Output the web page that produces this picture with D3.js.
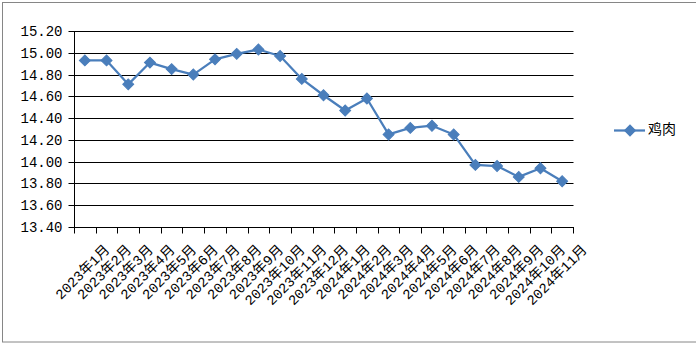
<!DOCTYPE html>
<html><head><meta charset="utf-8">
<script src="https://cdn.jsdelivr.net/npm/d3@7"></script>
<style>
html,body{margin:0;padding:0;background:#fff;}
svg{display:block;}
</style></head>
<body>
<svg id="chart" width="696" height="356"></svg>
<script>
const categories = ["2023年1月","2023年2月","2023年3月","2023年4月","2023年5月","2023年6月","2023年7月","2023年8月","2023年9月","2023年10月","2023年11月","2023年12月","2024年1月","2024年2月","2024年3月","2024年4月","2024年5月","2024年6月","2024年7月","2024年8月","2024年9月","2024年10月","2024年11月"];
const seriesName = "鸡肉";
const values = [14.93,14.93,14.71,14.91,14.85,14.80,14.94,14.99,15.03,14.97,14.76,14.61,14.47,14.58,14.25,14.31,14.33,14.25,13.97,13.96,13.86,13.94,13.82];
const yTicks = [13.40,13.60,13.80,14.00,14.20,14.40,14.60,14.80,15.00,15.20];

(function(){
const svg = d3.select("#chart");
const pLeft = 74, pRight = 573, pTop = 31, pBottom = 227;
const color = "#4A7EBB";
const labelFont = "'Liberation Mono','Noto Sans CJK SC',monospace";

// border
svg.append("rect").attr("x",2.5).attr("y",2.5).attr("width",710).attr("height",339.5)
  .attr("fill","none").attr("stroke","#868686").attr("stroke-width",1);

const x = d3.scaleBand().domain(categories).range([pLeft,pRight]).paddingInner(0).paddingOuter(0);
const y = d3.scaleLinear().domain([13.4,15.2]).range([pBottom,pTop]);
const px = v => Math.round(v)+0.5;

// gridlines
svg.append("g").selectAll("line").data(yTicks).join("line")
  .attr("x1",pLeft).attr("x2",pRight+0.5)
  .attr("y1",d=>px(y(d))).attr("y2",d=>px(y(d)))
  .attr("stroke","#000").attr("stroke-width",1);

// y axis
const yAxis = d3.axisLeft(y).tickValues(yTicks).tickSize(6).tickFormat(d3.format(".2f"));
const gy = svg.append("g").attr("transform",`translate(${pLeft+0.5},0)`).call(yAxis);
gy.select(".domain").attr("stroke","#000").attr("d",`M0,${px(pTop)-0.5}V${px(pBottom)}`);
gy.selectAll(".tick").attr("transform",d=>`translate(0,${px(y(d))})`);
gy.selectAll(".tick line").attr("stroke","#000");
gy.selectAll(".tick text").attr("x",-12).attr("dy","0.35em")
  .style("font-family",labelFont).style("font-size","14px").attr("fill","#000");

// x axis
const boundaries = d3.range(categories.length+1).map(i=>pLeft + i*x.bandwidth());
const gx = svg.append("g");
gx.append("line").attr("x1",pLeft).attr("x2",pRight+1).attr("y1",px(pBottom)).attr("y2",px(pBottom)).attr("stroke","#000");
gx.selectAll("line.tk").data(boundaries).join("line").attr("class","tk")
  .attr("x1",d=>px(d)).attr("x2",d=>px(d)).attr("y1",px(pBottom)).attr("y2",px(pBottom)+6).attr("stroke","#000");
gx.selectAll("text").data(categories).join("text")
  .attr("transform",d=>`translate(${x(d)+x.bandwidth()/2+23},248) rotate(-45)`)
  .attr("text-anchor","end").attr("dominant-baseline","middle")
  .style("font-family",labelFont).style("font-size","14px").attr("fill","#000")
  .text(d=>d);

// line
const line = d3.line().x((d,i)=>x(categories[i])+x.bandwidth()/2).y(d=>y(d));
svg.append("path").datum(values).attr("d",line).attr("fill","none")
  .attr("stroke",color).attr("stroke-width",2.25).attr("stroke-linejoin","round");

const diamond = d3.symbol().type(d3.symbolSquare).size(60);
svg.append("g").selectAll("path").data(values).join("path")
  .attr("d",diamond())
  .attr("transform",(d,i)=>`translate(${x(categories[i])+x.bandwidth()/2},${y(d)}) rotate(45)`)
  .attr("fill",color).attr("stroke",color).attr("stroke-width",1);

// legend
const lg = svg.append("g").attr("transform","translate(0,130)");
lg.append("line").attr("x1",614).attr("x2",645).attr("y1",0.5).attr("y2",0.5).attr("stroke",color).attr("stroke-width",2.25);
lg.append("path").attr("d",diamond()).attr("transform","translate(630,0.5) rotate(45)").attr("fill",color).attr("stroke",color);
lg.append("text").attr("x",648).attr("y",0.5).attr("dominant-baseline","middle")
  .style("font-family","'Noto Sans CJK SC',sans-serif").style("font-size","14px").attr("fill","#000").text(seriesName);
})();
</script>
</body></html>
